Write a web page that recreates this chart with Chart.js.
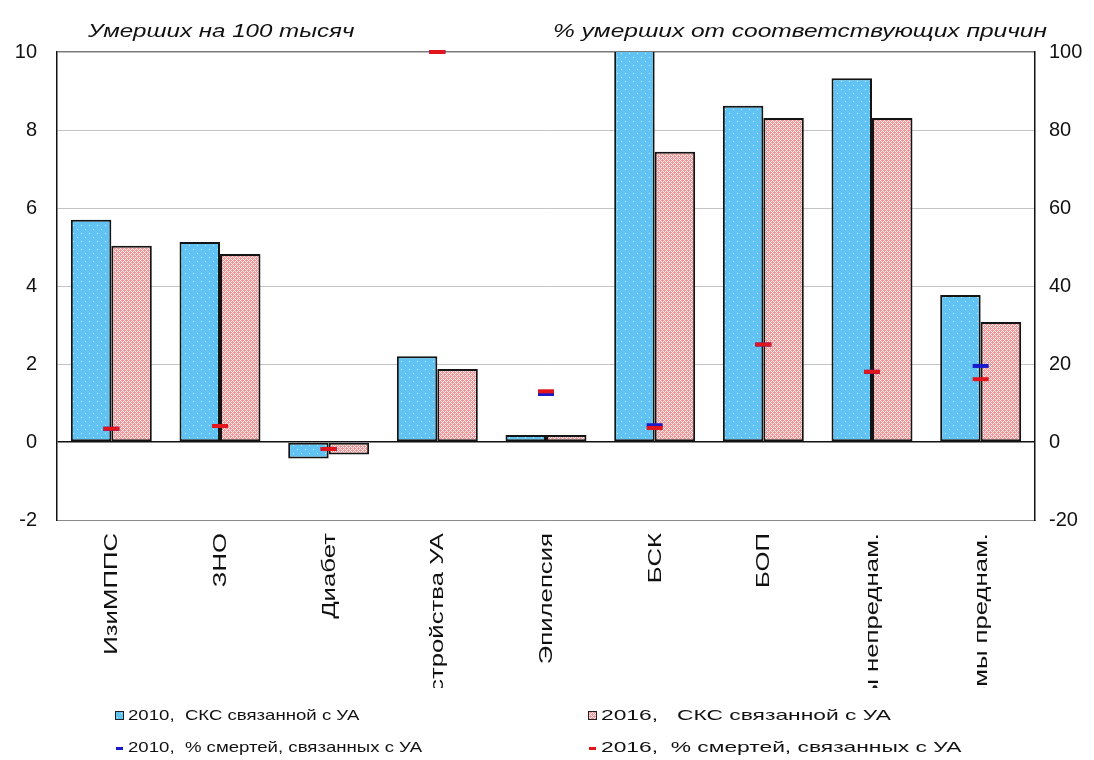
<!DOCTYPE html>
<html>
<head>
<meta charset="utf-8">
<script src="https://cdn.jsdelivr.net/npm/chart.js@4.4.1/dist/chart.umd.min.js"></script>
<style>
  html, body { margin: 0; padding: 0; background: #fff; }
  #wrap { width: 1094px; height: 760px; position: relative; }
</style>
</head>
<body>
<div id="wrap"><canvas id="c" width="1094" height="760"></canvas></div>
<script>
// Causes of death
const categories = ['ИзиМППС', 'ЗНО', 'Диабет', 'Расстройства УА', 'Эпилепсия', 'БСК', 'БОП', 'Травмы непреднам.', 'Травмы преднам.'];
// Alcohol-attributable standardized death rate, per 100 thousand
const rate2010 = [5.7, 5.13, -0.42, 2.2, 0.18, 12.5, 8.62, 9.33, 3.77];
const rate2016 = [5.03, 4.82, -0.32, 1.87, 0.18, 7.44, 8.31, 8.31, 3.08];
// Share of deaths attributable to alcohol, %
const share2010 = [3.4, 4.1, -1.8, 100, 12.3, 4.3, 25, 18, 19.5];
const share2016 = [3.4, 4.1, -1.8, 100, 13.0, 3.6, 25, 18, 16.1];
// Axis ticks
const leftTicks = [-2, 0, 2, 4, 6, 8, 10];
const rightTicks = [-20, 0, 20, 40, 60, 80, 100];

const seriesNames = [
  '2010,  СКС связанной с УА',
  '2016,   СКС связанной с УА',
  '2010,  % смертей, связанных с УА',
  '2016,  % смертей, связанных с УА'
];
const titleLeft = 'Умерших на 100 тысяч';
const titleRight = '% умерших от соответствующих причин';

const FONT = '"Liberation Sans", Arial, sans-serif';
const BLUE_LINE = '#1a1acc';
const RED_LINE = '#e2141c';

function dotPattern() {
  const t = document.createElement('canvas');
  t.width = 8; t.height = 8;
  const g = t.getContext('2d');
  g.fillStyle = '#60c3f3';
  g.fillRect(0, 0, 8, 8);
  g.fillStyle = 'rgba(230,246,255,0.8)';
  g.fillRect(1, 1, 1, 1);
  g.fillRect(5, 5, 1, 1);
  return g.createPattern(t, 'repeat');
}
function hatchPattern() {
  // pink cells separated by a white diagonal lattice
  const t = document.createElement('canvas');
  t.width = 4; t.height = 4;
  const g = t.getContext('2d');
  g.fillStyle = '#f09496';
  g.fillRect(0, 0, 4, 4);
  g.fillStyle = 'rgba(255,242,242,0.95)';
  for (let px = 0; px < 4; px++) {
    for (let py = 0; py < 4; py++) {
      if ((px + py) % 4 === 0 || (px - py + 4) % 4 === 0) g.fillRect(px, py, 1, 1);
    }
  }
  return g.createPattern(t, 'repeat');
}
const fill2010 = dotPattern();
const fill2016 = hatchPattern();

function wideText(ctx, text, x, y, sx) {
  ctx.save();
  ctx.translate(x, y);
  ctx.scale(sx, 1);
  ctx.fillText(text, 0, 0);
  ctx.restore();
}

const decorations = {
  id: 'decorations',
  afterDraw(chart) {
    const ctx = chart.ctx;
    const x = chart.scales.x;
    const area = chart.chartArea;
    ctx.save();
    ctx.fillStyle = '#111';

    // titles above each value axis
    ctx.font = 'italic 19px ' + FONT;
    ctx.textBaseline = 'alphabetic';
    ctx.textAlign = 'left';
    wideText(ctx, titleLeft, 88, 37, 1.27);
    wideText(ctx, titleRight, 553, 37, 1.29);

    // vertical category labels, clipped to the label band
    ctx.save();
    ctx.beginPath();
    ctx.rect(0, area.bottom + 2, chart.width, 688 - area.bottom - 2);
    ctx.clip();
    ctx.font = '18px ' + FONT;
    ctx.textAlign = 'right';
    ctx.textBaseline = 'middle';
    categories.forEach((label, i) => {
      const px = x.getPixelForValue(i);
      ctx.save();
      ctx.translate(px + 1, area.bottom + 13);
      ctx.rotate(-Math.PI / 2);
      ctx.scale(1.43, 1);
      ctx.fillText(label, 0, 0);
      ctx.restore();
    });
    ctx.restore();

    // legend in two columns
    const cols = [115, 588];
    const stretch = [1.24, 1.52];
    const rows = [716, 748];
    ctx.font = '15px ' + FONT;
    ctx.textAlign = 'left';
    ctx.textBaseline = 'middle';
    const items = [
      { kind: 'box', fill: fill2010, col: 0, row: 0 },
      { kind: 'box', fill: fill2016, col: 1, row: 0 },
      { kind: 'dash', fill: BLUE_LINE, col: 0, row: 1 },
      { kind: 'dash', fill: RED_LINE, col: 1, row: 1 }
    ];
    items.forEach((it, i) => {
      const lx = cols[it.col], ly = rows[it.row];
      if (it.kind === 'box') {
        ctx.fillStyle = it.fill;
        ctx.fillRect(lx, ly - 5, 9, 9);
        ctx.strokeStyle = '#222';
        ctx.lineWidth = 1;
        ctx.strokeRect(lx + 0.5, ly - 4.5, 8, 8);
      } else {
        ctx.fillStyle = it.fill;
        ctx.fillRect(lx + 1, ly - 1, 7, 3);
      }
      ctx.fillStyle = '#111';
      wideText(ctx, seriesNames[i], lx + 13, ly, stretch[it.col]);
    });
    ctx.restore();
  }
};

new Chart(document.getElementById('c'), {
  data: {
    labels: categories,
    datasets: [
      {
        type: 'line', label: seriesNames[3], data: share2016, yAxisID: 'y1',
        showLine: false, pointStyle: 'line', pointRadius: 8, pointHoverRadius: 8,
        pointBorderWidth: 4, borderColor: RED_LINE, backgroundColor: RED_LINE,
        order: 0, clip: false
      },
      {
        type: 'line', label: seriesNames[2], data: share2010, yAxisID: 'y1',
        showLine: false, pointStyle: 'line', pointRadius: 8, pointHoverRadius: 8,
        pointBorderWidth: 4, borderColor: BLUE_LINE, backgroundColor: BLUE_LINE,
        order: 1, clip: false
      },
      {
        type: 'bar', label: seriesNames[0], data: rate2010, yAxisID: 'y',
        backgroundColor: fill2010, borderColor: '#141414', borderWidth: 2,
        borderSkipped: false, categoryPercentage: 0.745, barPercentage: 1.0,
        order: 2, clip: 0
      },
      {
        type: 'bar', label: seriesNames[1], data: rate2016, yAxisID: 'y',
        backgroundColor: fill2016, borderColor: '#141414', borderWidth: 2,
        borderSkipped: false, categoryPercentage: 0.745, barPercentage: 1.0,
        order: 2, clip: 0
      }
    ]
  },
  options: {
    responsive: false,
    animation: false,
    events: [],
    layout: { padding: { top: 52, bottom: 0, left: 0, right: 0 } },
    plugins: { legend: { display: false }, tooltip: { enabled: false }, title: { display: false } },
    scales: {
      x: {
        type: 'category',
        offset: true,
        grid: { display: false, drawTicks: false },
        border: { display: true, color: '#8a8a8a', width: 1 },
        ticks: { display: false },
        afterFit(scale) { scale.height = 240; }
      },
      y: {
        position: 'left',
        min: -2, max: 10,
        afterBuildTicks(scale) { scale.ticks = leftTicks.map(v => ({ value: v })); },
        afterFit(scale) { scale.width = 57; },
        grid: {
          drawTicks: false,
          color: ctx => ctx.tick.value === 0 ? '#111' : (ctx.tick.value === 10 || ctx.tick.value === -2 ? '#7a7a7a' : '#c4c4c4'),
          lineWidth: ctx => ctx.tick.value === 0 ? 1.5 : (ctx.tick.value === 10 ? 1.5 : 1)
        },
        border: { display: true, color: '#111', width: 1.5 },
        ticks: { color: '#111', font: { family: FONT, size: 20 }, padding: 20 }
      },
      y1: {
        position: 'right',
        min: -20, max: 100,
        afterBuildTicks(scale) { scale.ticks = rightTicks.map(v => ({ value: v })); },
        afterFit(scale) { scale.width = 59; },
        grid: { display: false, drawTicks: false },
        border: { display: true, color: '#111', width: 1.5 },
        ticks: { color: '#111', font: { family: FONT, size: 20 }, padding: 14 }
      }
    }
  },
  plugins: [decorations]
});
</script>
</body>
</html>
